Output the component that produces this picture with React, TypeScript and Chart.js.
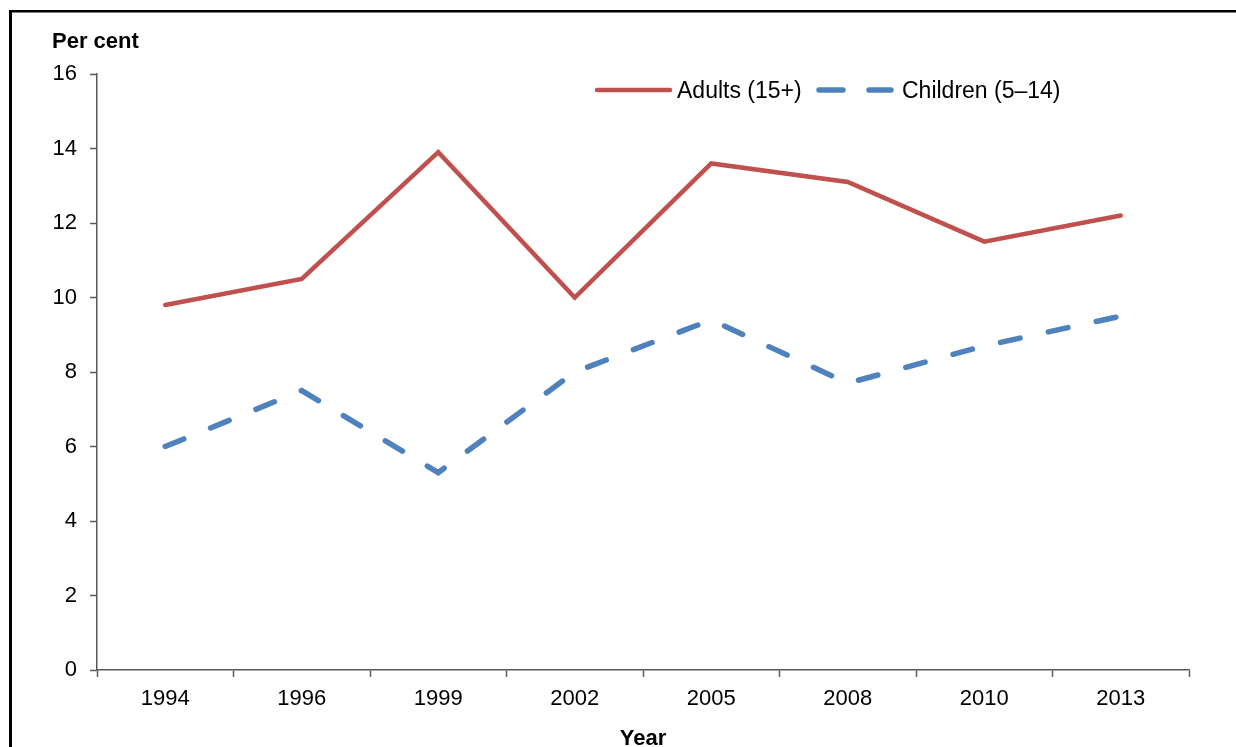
import React, { useEffect, useRef } from "react";
import { Chart, registerables } from "chart.js";

Chart.register(...registerables);

const years = ["1994", "1996", "1999", "2002", "2005", "2008", "2010", "2013"];
const adults = [9.8, 10.5, 13.9, 10.0, 13.6, 13.1, 11.5, 12.2];
const children = [6.0, 7.5, 5.3, 8.0, 9.4, 7.7, 8.7, 9.5];
const yTicks = [0, 2, 4, 6, 8, 10, 12, 14, 16];
const adultsLabel = "Adults (15+)";
const childrenLabel = "Children (5–14)";
const yTitle = "Per cent";
const xTitle = "Year";

const RED = "#C0504D";
const BLUE = "#4F81BD";
const AXIS = "#595959";
const FONT = "'Liberation Sans', Arial, sans-serif";

const decorPlugin = {
  id: "decor",
  afterDraw(chart: any) {
    const ctx = chart.ctx;
    ctx.save();
    // frame
    ctx.fillStyle = "#000";
    ctx.fillRect(9, 10, 1227, 2.5);
    ctx.fillRect(9, 10, 3, 737);
    // y title
    ctx.fillStyle = "#000";
    ctx.font = `bold 22px ${FONT}`;
    ctx.textBaseline = "middle";
    ctx.textAlign = "left";
    ctx.fillText(yTitle, 52, 42);
    // legend
    const ly = 90;
    ctx.lineCap = "round";
    ctx.strokeStyle = RED;
    ctx.lineWidth = 4.5;
    ctx.beginPath();
    ctx.moveTo(597, ly);
    ctx.lineTo(670, ly);
    ctx.stroke();
    ctx.font = `23px ${FONT}`;
    ctx.fillStyle = "#000";
    ctx.fillText(adultsLabel, 677, ly + 1.5);
    ctx.strokeStyle = BLUE;
    ctx.lineWidth = 5.5;
    ctx.beginPath();
    ctx.moveTo(819, ly);
    ctx.lineTo(843, ly);
    ctx.moveTo(869, ly);
    ctx.lineTo(891, ly);
    ctx.stroke();
    ctx.fillText(childrenLabel, 902, ly + 1.5);
    ctx.restore();
  },
};

export default function App() {
  const ref = useRef<HTMLCanvasElement>(null);
  useEffect(() => {
    if (!ref.current) return;
    const chart = new Chart(ref.current, {
      type: "line",
      data: {
        labels: years,
        datasets: [
          {
            label: adultsLabel,
            data: adults,
            borderColor: RED,
            backgroundColor: RED,
            borderWidth: 4.5,
            pointRadius: 0,
            tension: 0,
            borderJoinStyle: "miter",
            borderCapStyle: "round",
          },
          {
            label: childrenLabel,
            data: children,
            borderColor: BLUE,
            backgroundColor: BLUE,
            borderWidth: 5.5,
            pointRadius: 0,
            tension: 0,
            borderDash: [20, 29],
            borderCapStyle: "round",
          },
        ],
      },
      options: {
        animation: false,
        responsive: false,
        maintainAspectRatio: false,
        layout: { padding: { left: 0, right: 47, top: 74, bottom: 0 } },
        plugins: {
          legend: { display: false },
          tooltip: { enabled: false },
          title: { display: false },
        },
        scales: {
          x: {
            type: "category",
            offset: true,
            grid: {
              offset: true,
              drawOnChartArea: false,
              drawTicks: true,
              tickLength: 7,
              tickColor: AXIS,
              tickWidth: 1.5,
            },
            border: { display: true, color: AXIS, width: 1.5 },
            ticks: {
              color: "#000",
              font: { family: FONT, size: 22 },
              padding: 9,
              maxRotation: 0,
              autoSkip: false,
            },
            title: {
              display: true,
              text: xTitle,
              color: "#000",
              font: { family: FONT, size: 22, weight: "bold", lineHeight: 0.75 },
              padding: { top: 0, bottom: 0 },
            },
            afterFit(scale: any) {
              scale.height = 77;
            },
          },
          y: {
            min: 0,
            max: 16,
            afterBuildTicks(scale: any) {
              scale.ticks = yTicks.map((v) => ({ value: v }));
            },
            grid: {
              drawOnChartArea: false,
              drawTicks: true,
              tickLength: 7,
              tickColor: AXIS,
              tickWidth: 1.5,
            },
            border: { display: true, color: AXIS, width: 1.5 },
            ticks: {
              color: "#000",
              font: { family: FONT, size: 22 },
              padding: 13,
            },
            afterFit(scale: any) {
              scale.width = 97;
            },
          },
        },
      },
      plugins: [decorPlugin],
    });
    return () => chart.destroy();
  }, []);
  return (
    <div style={{ position: "absolute", left: 0, top: 0, width: 1236, height: 747, background: "#fff" }}>
      <canvas ref={ref} width={1236} height={747} style={{ display: "block" }} />
    </div>
  );
}
